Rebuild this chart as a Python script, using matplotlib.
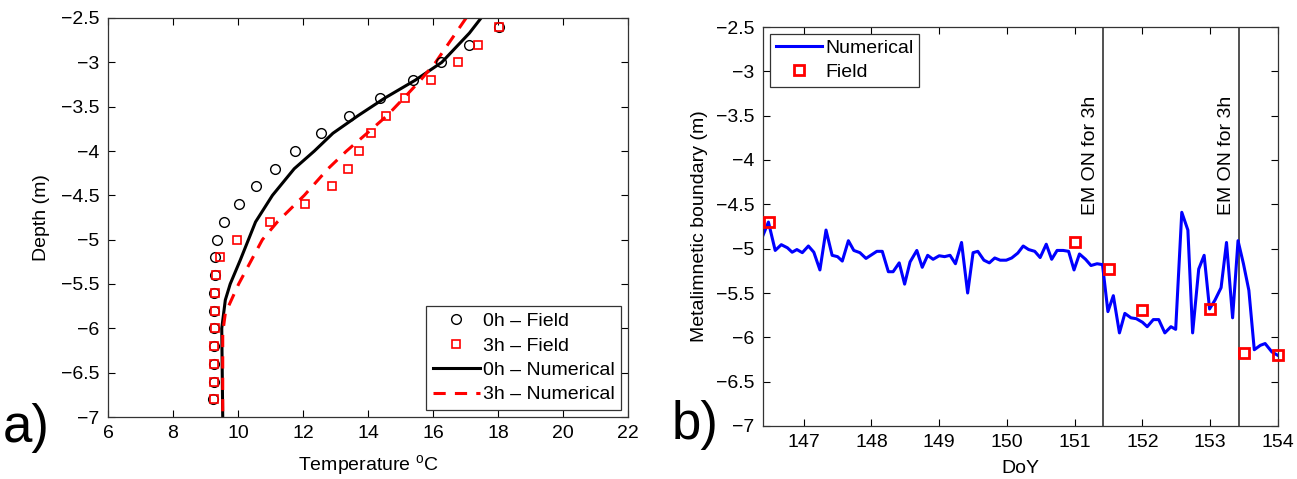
import matplotlib
matplotlib.use("Agg")
import matplotlib.pyplot as plt
from matplotlib.ticker import FixedLocator, FuncFormatter

plt.rcParams['font.family'] = ['Liberation Sans', 'DejaVu Sans']
plt.rcParams['mathtext.fontset'] = 'custom'
plt.rcParams['mathtext.rm'] = 'Liberation Sans'
plt.rcParams['axes.unicode_minus'] = True

# ---------------- Panel a) data ----------------
field_depth = [-2.6, -2.8, -3.0, -3.2, -3.4, -3.6, -3.8, -4.0, -4.2, -4.4, -4.6,
               -4.8, -5.0, -5.2, -5.4, -5.6, -5.8, -6.0, -6.2, -6.4, -6.6, -6.8]
field_0h = [18.03, 17.12, 16.24, 15.39, 14.38, 13.42, 12.56, 11.76, 11.13, 10.54, 10.03,
            9.58, 9.35, 9.30, 9.30, 9.27, 9.26, 9.26, 9.26, 9.26, 9.26, 9.24]
field_3h = [18.03, 17.38, 16.76, 15.95, 15.15, 14.56, 14.09, 13.72, 13.39, 12.89, 12.06,
            10.97, 9.97, 9.45, 9.32, 9.30, 9.28, 9.28, 9.26, 9.26, 9.26, 9.25]

num0_depth = [-2.5, -2.67, -3.0, -3.2, -3.4, -3.6, -3.8, -4.0, -4.2, -4.5, -4.8,
              -5.23, -5.5, -5.68, -6.0, -7.0]
num0_temp = [17.48, 17.12, 16.27, 15.46, 14.53, 13.70, 12.92, 12.35, 11.73, 11.06, 10.54,
             10.07, 9.76, 9.61, 9.50, 9.53]
num3_depth = [-2.5, -3.0, -3.2, -3.4, -3.6, -3.8, -4.0, -4.2, -4.5, -4.8, -5.0,
              -5.5, -5.83, -6.05, -7.0]
num3_temp = [17.02, 16.08, 15.62, 15.11, 14.59, 13.97, 13.34, 12.77, 12.04, 11.21, 10.75,
             10.02, 9.61, 9.53, 9.53]

temp_ticks = [6, 8, 10, 12, 14, 16, 18, 20, 22]
depth_ticks = [-7, -6.5, -6, -5.5, -5, -4.5, -4, -3.5, -3, -2.5]

# ---------------- Panel b) data ----------------
doy = [146.40, 146.48, 146.58, 146.67, 146.76, 146.83, 146.90, 146.98, 147.07, 147.15,
       147.24, 147.33, 147.42, 147.50, 147.57, 147.66, 147.74, 147.83, 147.92, 147.99,
       148.08, 148.16, 148.25, 148.32, 148.41, 148.49, 148.57, 148.67, 148.75, 148.83,
       148.91, 149.00, 149.08, 149.16, 149.24, 149.33, 149.42, 149.50, 149.57, 149.66,
       149.74, 149.82, 149.90, 149.99, 150.07, 150.16, 150.24, 150.32, 150.41, 150.49,
       150.58, 150.66, 150.74, 150.83, 150.91, 150.99, 151.07, 151.16, 151.24, 151.33,
       151.41, 151.49, 151.57, 151.66, 151.74, 151.83, 151.91, 152.00, 152.07, 152.16,
       152.24, 152.33, 152.42, 152.49, 152.58, 152.67, 152.74, 152.83, 152.91, 152.99,
       153.07, 153.16, 153.24, 153.33, 153.41, 153.49, 153.57, 153.65, 153.74, 153.81,
       153.91, 153.99]
boundary = [-4.85, -4.70, -5.02, -4.955, -4.99, -5.04, -5.01, -5.045, -4.97, -5.04,
            -5.24, -4.79, -5.075, -5.09, -5.14, -4.91, -5.02, -5.045, -5.11, -5.075,
            -5.03, -5.03, -5.26, -5.26, -5.16, -5.40, -5.15, -5.02, -5.21, -5.075,
            -5.12, -5.08, -5.09, -5.075, -5.17, -4.93, -5.50, -5.045, -5.03, -5.13,
            -5.16, -5.105, -5.13, -5.13, -5.105, -5.05, -4.97, -5.01, -5.03, -5.10,
            -4.95, -5.12, -5.02, -5.02, -5.03, -5.24, -5.06, -5.12, -5.19, -5.17,
            -5.18, -5.71, -5.53, -5.95, -5.73, -5.78, -5.79, -5.83, -5.88, -5.80,
            -5.80, -5.95, -5.88, -5.91, -4.59, -4.79, -5.95, -5.23, -5.075, -5.68,
            -5.58, -5.44, -4.93, -5.78, -4.91, -5.17, -5.47, -6.14, -6.09, -6.07,
            -6.165, -6.20]
field_doy = [146.49, 151.0, 151.5, 152.0, 153.0, 153.5, 154.0]
field_boundary = [-4.70, -4.92, -5.23, -5.69, -5.68, -6.18, -6.20]
em_on_doy = [151.42, 153.42]
doy_ticks = [147, 148, 149, 150, 151, 152, 153, 154]

# ---------------- Figure ----------------
fig = plt.figure(figsize=(12.97, 4.79), dpi=100)
ax1 = fig.add_axes([108 / 1297, 1 - 417 / 479, 520 / 1297, 399 / 479])
ax2 = fig.add_axes([763 / 1297, 1 - 426 / 479, 515 / 1297, 399 / 479])

FS = 14
fmt = FuncFormatter(lambda v, p: ('%g' % v).replace('-', '\u2212'))


def style(ax):
    ax.tick_params(direction='in', top=True, right=True, length=5, width=0.8,
                   labelsize=FS, pad=6)
    for s in ax.spines.values():
        s.set_linewidth(0.9)
        s.set_color('#333333')
    ax.yaxis.set_major_formatter(fmt)
    ax.xaxis.set_major_formatter(fmt)


# Panel a)
ax1.plot(field_0h, field_depth, 'o', ms=7, mfc='none', mec='black', mew=1.0,
         label='0h \u2013 Field', zorder=3)
ax1.plot(field_3h, field_depth, 's', ms=5.5, mfc='none', mec='red', mew=1.2,
         label='3h \u2013 Field', zorder=4)
ax1.plot(num0_temp, num0_depth, '-', color='black', lw=2.2,
         label='0h \u2013 Numerical', zorder=2)
ax1.plot(num3_temp, num3_depth, '--', color='red', lw=2.2, dashes=(4, 3),
         label='3h \u2013 Numerical', zorder=2.5)
ax1.set_xlim(6, 22)
ax1.set_ylim(-7, -2.5)
ax1.xaxis.set_major_locator(FixedLocator(temp_ticks))
ax1.yaxis.set_major_locator(FixedLocator(depth_ticks))
style(ax1)
ax1.set_xlabel('Temperature $^{\\mathrm{o}}$C', fontsize=FS, labelpad=8)
ax1.set_ylabel('Depth (m)', fontsize=FS, labelpad=8)
leg1 = ax1.legend(loc='lower right', fontsize=FS, handlelength=2.4,
                  handletextpad=0.15, borderaxespad=0.35, fancybox=False,
                  edgecolor='#333333', framealpha=1, borderpad=0.35,
                  labelspacing=0.35)
leg1.get_frame().set_linewidth(0.9)

# Panel b)
ax2.plot(doy, boundary, '-', color='#0000ff', lw=2.2, label='Numerical', zorder=2)
ax2.plot(field_doy, field_boundary, 's', ms=7, mfc='none', mec='red', mew=2.0,
         label='Field', zorder=4, clip_on=False)
for d in em_on_doy:
    ax2.axvline(d, color='#333333', lw=1.2, zorder=1)
    ax2.annotate('EM ON for 3h', xy=(d, -3.27), xytext=(-3, 0),
                 textcoords='offset points', rotation=90, ha='right', va='top',
                 fontsize=FS)
ax2.set_xlim(146.4, 154)
ax2.set_ylim(-7, -2.5)
ax2.xaxis.set_major_locator(FixedLocator(doy_ticks))
ax2.yaxis.set_major_locator(FixedLocator(depth_ticks))
style(ax2)
ax2.set_xlabel('DoY', fontsize=FS, labelpad=6)
ax2.set_ylabel('Metalimnetic boundary (m)', fontsize=FS, labelpad=6)
leg2 = ax2.legend(loc='upper left', fontsize=FS, handlelength=2.4,
                  handletextpad=0.15, borderaxespad=0.35, fancybox=False,
                  edgecolor='#333333', framealpha=1, borderpad=0.3,
                  labelspacing=0.3)
leg2.get_frame().set_linewidth(0.9)

# Panel letters
fig.text(3 / 1297, 1 - 428 / 479, 'a)', fontsize=38, va='center', ha='left')
fig.text(672 / 1297, 1 - 425 / 479, 'b)', fontsize=38, va='center', ha='left')

fig.savefig('out.png', dpi=100)
